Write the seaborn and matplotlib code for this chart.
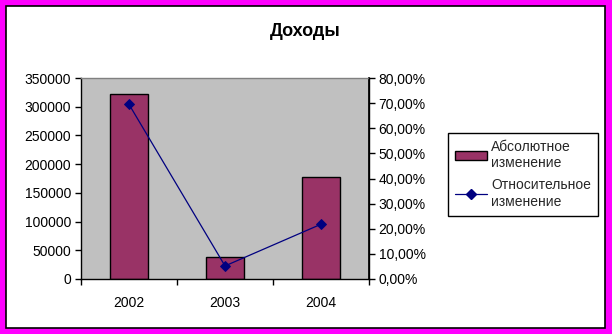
import matplotlib
matplotlib.use("Agg")
import matplotlib.pyplot as plt
import matplotlib.patches as mpatches
from matplotlib.lines import Line2D
from matplotlib.ticker import FuncFormatter, FixedLocator
import seaborn as sns
import pandas as pd

years = ["2002", "2003", "2004"]
absolute_change = [322000, 39000, 177000]
relative_change = [0.695, 0.052, 0.218]
title = "Доходы"
series_names = ["Абсолютное\nизменение", "Относительное\nизменение"]

sns.set_theme(style="white")
plt.rcParams["font.family"] = ["Liberation Sans", "DejaVu Sans"]

W, H = 612, 334
fig = plt.figure(figsize=(W / 100, H / 100), dpi=100)
fig.patch.set_facecolor("#FF00FF")
bg = mpatches.Rectangle((6 / W, 6 / H), 599 / W, 322 / H,
                        transform=fig.transFigure, facecolor="white",
                        edgecolor="black", linewidth=1.2, zorder=-10)
fig.add_artist(bg)

ax = fig.add_axes([81 / W, 55 / H, 288 / W, 201 / H])
ax.set_facecolor("#C0C0C0")
df = pd.DataFrame({"year": years, "abs": absolute_change, "rel": relative_change})
sns.barplot(data=df, x="year", y="abs", ax=ax, color="#993366", width=0.4,
            edgecolor="black", linewidth=1.0, saturation=1)
ax.set_xlim(-0.5, 2.5)
ax.set_ylim(0, 350000)
ax.set_yticks(range(0, 350001, 50000))
ax.yaxis.set_major_formatter(FuncFormatter(lambda v, p: f"{int(v)}"))
ax.set_xlabel("")
ax.set_ylabel("")
ax.set_xticks(range(len(years)))
ax.set_xticklabels(years)
ax.xaxis.set_minor_locator(FixedLocator([-0.5, 0.5, 1.5, 2.5]))
ax.tick_params(axis="x", which="major", length=0, pad=12, labelsize=10, colors="black")
ax.tick_params(axis="x", which="minor", length=4, width=1, direction="out", color="black", bottom=True)
ax.tick_params(axis="y", length=4, width=1, direction="out", left=True, labelsize=10,
               colors="black", pad=3)
for s in ["left", "bottom"]:
    ax.spines[s].set_color("black")
    ax.spines[s].set_linewidth(1.0)
ax.spines["top"].set_color("#808080")
ax.spines["top"].set_linewidth(1.0)
ax.spines["right"].set_color("black")

ax2 = ax.twinx()
sns.pointplot(data=df, x="year", y="rel", ax=ax2, color="#000080", markers="D",
              linestyles="-", linewidth=0.9, markersize=5)
ax2.set_xlim(-0.5, 2.5)
ax2.set_ylim(0, 0.8)
ax2.set_yticks([i / 10 for i in range(9)])
ax2.yaxis.set_major_formatter(FuncFormatter(lambda v, p: f"{v*100:.2f}%".replace(".", ",")))
ax2.set_ylabel("")
ax2.set_xlabel("")
ax2.tick_params(axis="y", length=4, width=1, direction="out", right=True, labelsize=10,
                colors="black", pad=3)
for s in ["left", "bottom", "top"]:
    ax2.spines[s].set_visible(False)
ax2.spines["right"].set_color("black")
ax2.spines["right"].set_linewidth(1.0)

fig.text(305 / W, (H - 31) / H, title, ha="center", va="center", fontsize=13,
         fontweight="bold", color="black")

handles = [mpatches.Patch(facecolor="#993366", edgecolor="black", linewidth=1.0),
           Line2D([0], [0], color="#000080", marker="D", markersize=5, linewidth=0.9)]
leg = fig.legend(handles, series_names, loc="upper left",
                 bbox_to_anchor=(448 / W, (H - 133) / H), fontsize=10, frameon=True,
                 fancybox=False, edgecolor="black", framealpha=1, borderpad=0.5,
                 handlelength=2.3, handleheight=0.6, handletextpad=0.3, labelspacing=0.6,
                 borderaxespad=0)
leg.get_frame().set_linewidth(1.0)

fig.savefig("out.png", dpi=100, facecolor=fig.get_facecolor())
